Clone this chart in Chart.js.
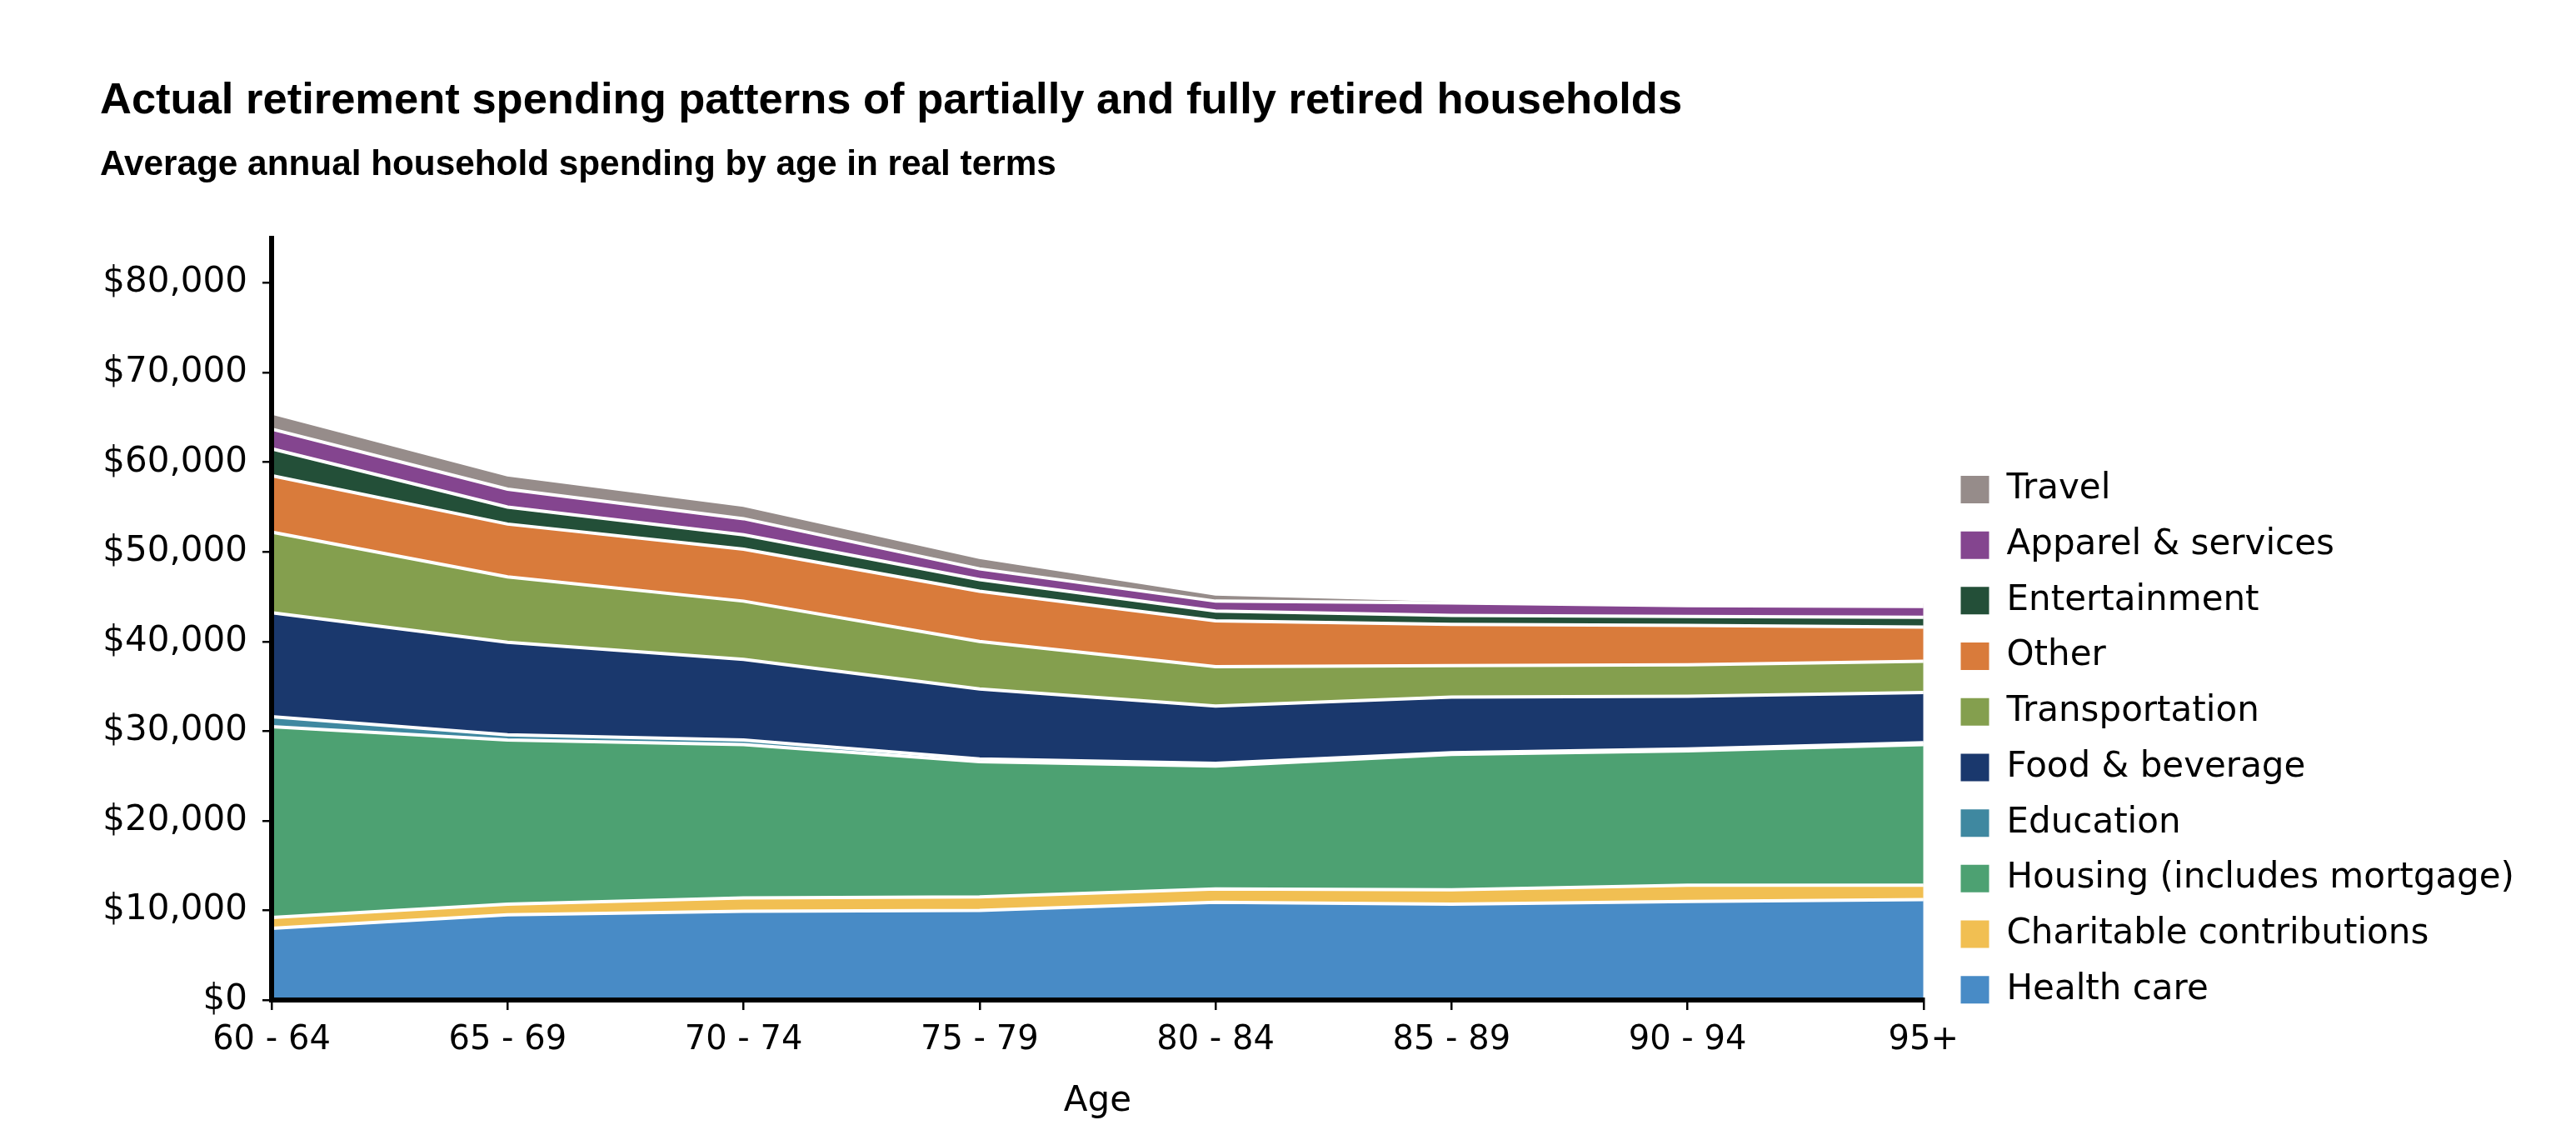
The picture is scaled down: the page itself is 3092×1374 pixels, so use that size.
<!DOCTYPE html>
<html>
<head>
<meta charset="utf-8">
<script src="https://cdn.jsdelivr.net/npm/chart.js@4.4.1/dist/chart.umd.min.js"></script>
<style>
html,body{margin:0;padding:0;background:#fff;}
#wrap{width:3092px;height:1374px;position:relative;}
canvas{display:block;}
</style>
</head>
<body>
<div id="wrap"><canvas id="c" width="3092" height="1374"></canvas></div>
<script>
// ---- data ----
const categories = ['60 - 64', '65 - 69', '70 - 74', '75 - 79', '80 - 84', '85 - 89', '90 - 94', '95+'];
const healthCare     = [8000, 9500, 9900, 10000, 10900, 10700, 11000, 11200];
const charitable     = [1200, 1200, 1500, 1500, 1500, 1600, 1800, 1600];
const housing        = [21300, 18300, 17100, 15100, 13700, 15100, 15000, 15700];
const education      = [1100, 600, 500, 300, 300, 200, 200, 200];
const foodBeverage   = [11600, 10300, 9000, 7800, 6400, 6200, 5900, 5600];
const transportation = [9000, 7300, 6500, 5300, 4400, 3500, 3500, 3500];
const other          = [6300, 5900, 5800, 5600, 5100, 4600, 4400, 3800];
const entertainment  = [3000, 1900, 1600, 1300, 1100, 1000, 1000, 1100];
const apparel        = [2200, 2000, 1800, 1200, 1100, 1400, 1200, 1200];
const travel         = [1800, 1600, 1500, 1300, 800, 300, 300, 300];
const yTickValues    = [0, 10000, 20000, 30000, 40000, 50000, 60000, 70000, 80000];

const seriesNames = ['Health care', 'Charitable contributions', 'Housing (includes mortgage)', 'Education',
  'Food & beverage', 'Transportation', 'Other', 'Entertainment', 'Apparel & services', 'Travel'];
const seriesData = [healthCare, charitable, housing, education, foodBeverage, transportation, other, entertainment, apparel, travel];
const seriesColors = ['#488BC6', '#F1BF52', '#4DA172', '#3F88A0', '#1A386D', '#849F4E', '#D97B3B', '#234F38', '#84458F', '#968C8A'];

const bodyFont = 'DejaVu Sans';

const datasets = seriesNames.map((name, i) => ({
  label: name,
  data: seriesData[i],
  backgroundColor: seriesColors[i],
  borderColor: '#ffffff',
  borderWidth: 4,
  fill: i === 0 ? 'origin' : '-1',
  pointRadius: 0,
  pointHoverRadius: 0,
  tension: 0
}));

// nudge the legend block to sit where the reference places it
const legendNudge = {
  id: 'legendNudge',
  afterLayout(chart) {
    const lg = chart.legend;
    if (!lg) return;
    lg.left += 20; lg.right += 20;
    lg.top += 256; lg.bottom += 256;
  }
};

new Chart(document.getElementById('c'), {
  type: 'line',
  data: { labels: categories, datasets },
  plugins: [legendNudge],
  options: {
    responsive: false,
    devicePixelRatio: 1,
    animation: false,
    events: [],
    layout: { padding: { left: 120, right: 84, top: 0, bottom: 27 } },
    plugins: {
      tooltip: { enabled: false },
      title: {
        display: true,
        text: 'Actual retirement spending patterns of partially and fully retired households',
        align: 'start',
        color: '#000',
        font: { family: 'Liberation Sans', size: 52.5, weight: 'bold' },
        padding: { top: 90, bottom: 0 }
      },
      subtitle: {
        display: true,
        text: 'Average annual household spending by age in real terms',
        align: 'start',
        color: '#000',
        font: { family: 'Liberation Sans', size: 42.3, weight: 'bold' },
        padding: { top: 20, bottom: 62 }
      },
      legend: {
        display: true,
        position: 'right',
        align: 'start',
        fullSize: false,
        reverse: true,
        labels: {
          boxWidth: 34,
          boxHeight: 33,
          padding: 24.7,
          color: '#000',
          font: { family: bodyFont, size: 42 },
          generateLabels: (chart) => Chart.defaults.plugins.legend.labels.generateLabels(chart)
            .map(l => Object.assign(l, { lineWidth: 0, strokeStyle: l.fillStyle }))
        }
      }
    },
    scales: {
      x: {
        type: 'category',
        offset: false,
        border: { display: true, color: '#000', width: 6, z: 1 },
        grid: { drawOnChartArea: false, drawTicks: true, tickLength: 12, color: '#000', lineWidth: 2.5, z: 1 },
        ticks: { color: '#000', font: { family: bodyFont, size: 40 }, padding: 13, maxRotation: 0, autoSkip: false },
        title: { display: true, text: 'Age', color: '#000', font: { family: bodyFont, size: 42 }, padding: { top: 10.6, bottom: 0 } }
      },
      y: {
        stacked: true,
        min: 0,
        max: 85000,
        border: { display: true, color: '#000', width: 6, z: 1 },
        grid: { drawOnChartArea: false, drawTicks: true, tickLength: 11, color: '#000', lineWidth: 2.5, z: 1 },
        afterBuildTicks: (scale) => { scale.ticks = yTickValues.map(v => ({ value: v })); },
        afterFit: (scale) => { scale.width = 206; },
        ticks: {
          stepSize: 10000,
          includeBounds: false,
          color: '#000',
          padding: 18,
          font: { family: bodyFont, size: 42 },
          callback: (v) => '$' + Number(v).toLocaleString('en-US')
        }
      }
    }
  }
});
</script>
</body>
</html>
